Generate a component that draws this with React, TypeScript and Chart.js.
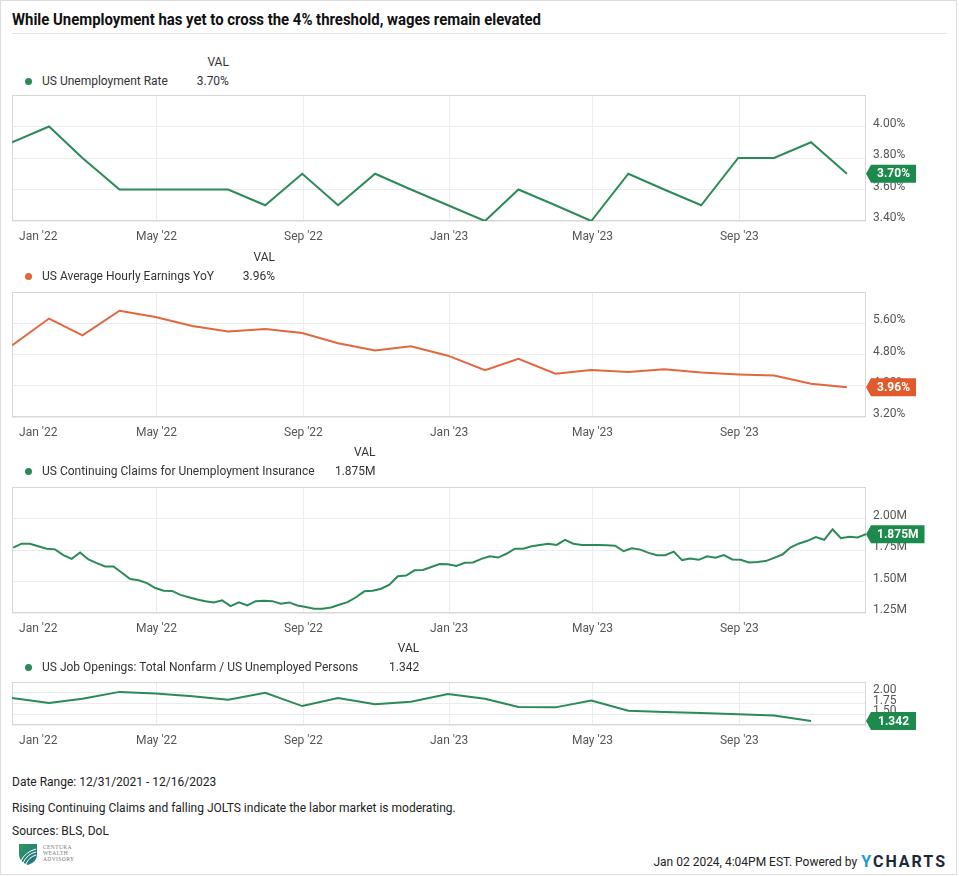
import React, { useEffect, useLayoutEffect, useRef } from 'react';
import { Chart, registerables } from 'chart.js';

Chart.register(...registerables);

const FONT = 'Roboto, "Noto Sans", "Liberation Sans", Arial, sans-serif';

// ---------- data ----------
const RANGE_START = '2021-12-31';
const RANGE_END = '2023-12-16';

const X_TICK_DATES = ['2022-01-22', '2022-05-01', '2022-09-01', '2023-01-01', '2023-05-01', '2023-09-01'];
const X_TICK_LABELS = ["Jan '22", "May '22", "Sep '22", "Jan '23", "May '23", "Sep '23"];

const MONTH_ENDS = [
  '2021-12-31', '2022-01-31', '2022-02-28', '2022-03-31', '2022-04-30', '2022-05-31',
  '2022-06-30', '2022-07-31', '2022-08-31', '2022-09-30', '2022-10-31', '2022-11-30',
  '2022-12-31', '2023-01-31', '2023-02-28', '2023-03-31', '2023-04-30', '2023-05-31',
  '2023-06-30', '2023-07-31', '2023-08-31', '2023-09-30', '2023-10-31', '2023-11-30',
];

const UNEMPLOYMENT = [3.9, 4.0, 3.8, 3.6, 3.6, 3.6, 3.6, 3.5, 3.7, 3.5, 3.7, 3.6, 3.5, 3.4, 3.6, 3.5, 3.4, 3.7, 3.6, 3.5, 3.8, 3.8, 3.9, 3.7];

const AHE_YOY = [5.03, 5.72, 5.29, 5.92, 5.76, 5.53, 5.39, 5.45, 5.35, 5.09, 4.90, 5.01, 4.77, 4.40, 4.69, 4.31, 4.40, 4.35, 4.42, 4.34, 4.29, 4.26, 4.05, 3.96];

const CLAIMS_FIRST_WEEK = '2022-01-01';
const CLAIMS = [
  1.769, 1.80, 1.80, 1.78, 1.76, 1.755, 1.71, 1.68, 1.73, 1.675,
  1.646, 1.62, 1.62, 1.57, 1.52, 1.51, 1.487, 1.448, 1.427, 1.425,
  1.394, 1.375, 1.357, 1.344, 1.334, 1.35, 1.305, 1.334, 1.31, 1.344,
  1.347, 1.344, 1.323, 1.334, 1.31, 1.297, 1.284, 1.284, 1.294, 1.316,
  1.336, 1.375, 1.422, 1.427, 1.443, 1.474, 1.542, 1.547, 1.589, 1.591,
  1.615, 1.638, 1.636, 1.623, 1.648, 1.651, 1.68,
  1.70, 1.69, 1.72, 1.76, 1.76, 1.78, 1.79, 1.80, 1.79, 1.83, 1.80, 1.79, 1.79,
  1.79, 1.787, 1.784, 1.74, 1.763, 1.753, 1.727, 1.709, 1.709, 1.737,
  1.67, 1.683, 1.672, 1.70, 1.688, 1.709, 1.675, 1.672, 1.651, 1.654,
  1.662, 1.688, 1.714, 1.771, 1.802, 1.823, 1.852, 1.831, 1.914, 1.844,
  1.855, 1.849, 1.875,
];

const JOLTS_RATIO = [1.88, 1.76, 1.86, 2.02, 1.98, 1.92, 1.84, 2.00, 1.69, 1.88, 1.73, 1.79, 1.97, 1.86, 1.67, 1.66, 1.82, 1.58, 1.55, 1.53, 1.50, 1.47, 1.342];

const Y_TICKS_UNEMP = [3.4, 3.6, 3.8, 4.0, 4.2];
const Y_TICKS_AHE = [3.2, 4.0, 4.8, 5.6, 6.4];
const Y_TICKS_CLAIMS = [1.25, 1.5, 1.75, 2.0, 2.25];
const Y_TICKS_JOLTS = [1.25, 1.5, 1.75, 2.0, 2.25];

// ---------- helpers ----------
const DAY = 86400000;
const startMs = Date.parse(RANGE_START + 'T00:00:00Z');
const dayOf = (s: string) => (Date.parse(s + 'T00:00:00Z') - startMs) / DAY;
const END_DAY = dayOf(RANGE_END);
const X_TICK_DAYS = X_TICK_DATES.map(dayOf);
const claimsStart = dayOf(CLAIMS_FIRST_WEEK);
const CLAIMS_DAYS = CLAIMS.map((_, i) => claimsStart + 7 * i);
const MONTH_DAYS = MONTH_ENDS.map(dayOf);

const GREEN = '#2b8a57';
const GREEN_BADGE = '#1d8a4d';
const ORANGE = '#e2663e';
const ORANGE_BADGE = '#e05a2c';

const boxPlugin = {
  id: 'box',
  beforeDatasetsDraw(chart: any) {
    const { ctx, chartArea } = chart;
    const l = Math.round(chartArea.left), t = Math.round(chartArea.top);
    const r = Math.round(chartArea.right), b = Math.round(chartArea.bottom);
    ctx.save();
    ctx.strokeStyle = '#d6d6d6';
    ctx.lineWidth = 1;
    ctx.strokeRect(l + 0.5, t + 0.5, r - l - 1, b - t - 1);
    ctx.restore();
  },
};

const badgePlugin = {
  id: 'badge',
  afterDraw(chart: any, _args: any, opts: any) {
    const data = chart.data.datasets[0].data as { x: number; y: number }[];
    const last = data[data.length - 1];
    const y = chart.scales.y.getPixelForValue(last.y);
    const x = chart.chartArea.right;
    const ctx = chart.ctx;
    ctx.save();
    ctx.font = `bold 12px ${FONT}`;
    const tw = ctx.measureText(opts.text).width;
    const w = Math.max(tw + 12, 45);
    const h = 18, tip = 5;
    ctx.fillStyle = opts.color;
    ctx.beginPath();
    ctx.moveTo(x, y);
    ctx.lineTo(x + tip, y - h / 2);
    ctx.lineTo(x + tip + w, y - h / 2);
    ctx.lineTo(x + tip + w, y + h / 2);
    ctx.lineTo(x + tip, y + h / 2);
    ctx.closePath();
    ctx.fill();
    ctx.fillStyle = '#ffffff';
    ctx.textAlign = 'center';
    ctx.textBaseline = 'middle';
    ctx.fillText(opts.text, x + tip + w / 2, y + 0.5);
    ctx.restore();
  },
};

type PanelProps = {
  plotTop: number;
  plotHeight: number;
  days: number[];
  values: number[];
  yTicks: number[];
  fmt: (v: number) => string;
  color: string;
  badgeColor: string;
  badgeText: string;
};

const PAD_TOP = 16;
const X_AXIS_H = 28;

function Panel(p: PanelProps) {
  const ref = useRef<HTMLCanvasElement>(null);
  const canvasH = PAD_TOP + p.plotHeight + X_AXIS_H;
  useEffect(() => {
    const yMin = p.yTicks[0];
    const yMax = p.yTicks[p.yTicks.length - 1];
    const chart = new Chart(ref.current as HTMLCanvasElement, {
      type: 'line',
      data: {
        datasets: [
          {
            data: p.days.map((d, i) => ({ x: d, y: p.values[i] })),
            borderColor: p.color,
            borderWidth: 2,
            pointRadius: 0,
            tension: 0,
            fill: false,
          },
        ],
      },
      options: {
        responsive: false,
        maintainAspectRatio: false,
        animation: false,
        devicePixelRatio: 1,
        layout: { padding: { left: 12, top: PAD_TOP, right: 0, bottom: 0 } },
        plugins: {
          legend: { display: false },
          tooltip: { enabled: false },
          badge: { text: p.badgeText, color: p.badgeColor },
        } as any,
        scales: {
          x: {
            type: 'linear',
            min: 0,
            max: END_DAY,
            afterBuildTicks: (s: any) => {
              s.ticks = X_TICK_DAYS.map((v) => ({ value: v }));
            },
            afterFit: (s: any) => {
              s.height = X_AXIS_H;
            },
            ticks: {
              autoSkip: false,
              maxRotation: 0,
              padding: 9,
              color: '#555',
              font: { family: FONT, size: 12 },
              callback: (_v: any, i: number) => X_TICK_LABELS[i],
            },
            grid: {
              drawTicks: false,
              color: (c: any) => (c.index === 0 ? 'rgba(0,0,0,0)' : '#ececec'),
            },
            border: { display: false },
          },
          y: {
            type: 'linear',
            position: 'right',
            min: yMin,
            max: yMax,
            afterBuildTicks: (s: any) => {
              s.ticks = p.yTicks.map((v) => ({ value: v }));
            },
            afterFit: (s: any) => {
              s.width = 93;
            },
            ticks: {
              autoSkip: false,
              padding: 7,
              labelOffset: -3,
              color: '#555',
              font: { family: FONT, size: 12 },
              callback: (v: any) => (Math.abs(Number(v) - yMax) < 1e-9 ? '' : p.fmt(Number(v))),
            },
            grid: { drawTicks: false, color: '#ececec' },
            border: { display: false },
          },
        },
      } as any,
      plugins: [boxPlugin, badgePlugin],
    });
    return () => chart.destroy();
  }, []);
  return (
    <canvas
      ref={ref}
      width={959}
      height={canvasH}
      style={{ position: 'absolute', left: 0, top: p.plotTop - PAD_TOP, width: 959, height: canvasH }}
    />
  );
}

function Legend(props: { valY: number; name: string; value: string; color: string }) {
  return (
    <div
      style={{
        position: 'absolute',
        left: 24.5,
        top: props.valY - 9.5,
        display: 'grid',
        gridTemplateColumns: 'auto 61px',
        fontFamily: FONT,
        fontSize: 12,
        lineHeight: '19px',
        color: '#333',
        whiteSpace: 'nowrap',
      }}
    >
      <div />
      <div style={{ textAlign: 'right' }}>VAL</div>
      <div style={{ display: 'flex', alignItems: 'center' }}>
        <span
          style={{
            display: 'inline-block',
            width: 7,
            height: 7,
            borderRadius: '50%',
            background: props.color,
            marginRight: 10.5,
          }}
        />
        {props.name}
      </div>
      <div style={{ textAlign: 'right' }}>{props.value}</div>
    </div>
  );
}

function Title() {
  const ref = useRef<HTMLDivElement>(null);
  useLayoutEffect(() => {
    const el = ref.current;
    if (!el) return;
    const w = el.getBoundingClientRect().width;
    if (w > 0) el.style.transform = `scaleX(${529 / w})`;
  }, []);
  return (
    <div
      ref={ref}
      style={{
        position: 'absolute',
        left: 12,
        top: 10,
        fontFamily: FONT,
        fontWeight: 'bold',
        fontSize: 16,
        lineHeight: '20px',
        color: '#111',
        whiteSpace: 'nowrap',
        transformOrigin: 'left center',
      }}
    >
      While Unemployment has yet to cross the 4% threshold, wages remain elevated
    </div>
  );
}

function Logo() {
  return (
    <div style={{ position: 'absolute', left: 18, top: 842 }}>
      <svg width={20} height={24} viewBox="0 0 20 24" style={{ position: 'absolute', left: 0, top: 0 }}>
        <defs>
          <linearGradient id="lg" x1="0" y1="0" x2="1" y2="1">
            <stop offset="0" stopColor="#2f9a5a" />
            <stop offset="1" stopColor="#1f6f8a" />
          </linearGradient>
        </defs>
        <path d="M1 2 L19 2 L19 12 Q19 20 10 23 Q1 20 1 12 Z" fill="url(#lg)" />
        <path d="M3 19 Q7 10 18 7" stroke="#fff" strokeWidth="1" fill="none" />
        <path d="M5 21 Q9 12 18 10" stroke="#fff" strokeWidth="1" fill="none" />
        <path d="M8 22 Q11 15 18 13" stroke="#fff" strokeWidth="1" fill="none" />
      </svg>
      <div
        style={{
          position: 'absolute',
          left: 25,
          top: 2,
          fontFamily: '"Liberation Serif", "DejaVu Serif", serif',
          fontSize: 5.5,
          lineHeight: '6px',
          color: '#7a7a7a',
          letterSpacing: '0.4px',
          whiteSpace: 'nowrap',
        }}
      >
        <div>CENTURA</div>
        <div>WEALTH</div>
        <div>ADVISORY</div>
      </div>
    </div>
  );
}

const footStyle: React.CSSProperties = {
  position: 'absolute',
  left: 12,
  fontFamily: FONT,
  fontSize: 12,
  lineHeight: '16px',
  color: '#222',
  whiteSpace: 'nowrap',
};

export default function App() {
  const pct = (v: number) => v.toFixed(2) + '%';
  return (
    <div
      style={{
        position: 'absolute',
        left: 0,
        top: 0,
        width: 959,
        height: 876,
        background: '#fff',
        overflow: 'hidden',
        fontFamily: FONT,
      }}
    >
      <div
        style={{
          position: 'absolute',
          left: 0,
          top: 0,
          width: 955,
          height: 873,
          border: '1px solid #dcdcdc',
        }}
      />
      <Title />
      <div style={{ position: 'absolute', left: 12, top: 33, width: 935, height: 1, background: '#e3e3e3' }} />

      <Legend valY={62} name="US Unemployment Rate" value="3.70%" color={GREEN} />
      <Panel
        plotTop={95}
        plotHeight={126}
        days={MONTH_DAYS}
        values={UNEMPLOYMENT}
        yTicks={Y_TICKS_UNEMP}
        fmt={pct}
        color={GREEN}
        badgeColor={GREEN_BADGE}
        badgeText="3.70%"
      />

      <Legend valY={257} name="US Average Hourly Earnings YoY" value="3.96%" color={ORANGE} />
      <Panel
        plotTop={292}
        plotHeight={125}
        days={MONTH_DAYS}
        values={AHE_YOY}
        yTicks={Y_TICKS_AHE}
        fmt={pct}
        color={ORANGE}
        badgeColor={ORANGE_BADGE}
        badgeText="3.96%"
      />

      <Legend valY={452} name="US Continuing Claims for Unemployment Insurance" value="1.875M" color={GREEN} />
      <Panel
        plotTop={487}
        plotHeight={126}
        days={CLAIMS_DAYS}
        values={CLAIMS}
        yTicks={Y_TICKS_CLAIMS}
        fmt={(v) => v.toFixed(2) + 'M'}
        color={GREEN}
        badgeColor={GREEN_BADGE}
        badgeText="1.875M"
      />

      <Legend valY={648} name="US Job Openings: Total Nonfarm / US Unemployed Persons" value="1.342" color={GREEN} />
      <Panel
        plotTop={682}
        plotHeight={43}
        days={MONTH_DAYS.slice(0, JOLTS_RATIO.length)}
        values={JOLTS_RATIO}
        yTicks={Y_TICKS_JOLTS}
        fmt={(v) => v.toFixed(2)}
        color={GREEN}
        badgeColor={GREEN_BADGE}
        badgeText="1.342"
      />

      <div style={{ ...footStyle, top: 774 }}>Date Range: 12/31/2021 - 12/16/2023</div>
      <div style={{ ...footStyle, top: 800 }}>
        Rising Continuing Claims and falling JOLTS indicate the labor market is moderating.
      </div>
      <div style={{ ...footStyle, top: 823 }}>Sources: BLS, DoL</div>
      <Logo />
      <div
        style={{
          position: 'absolute',
          right: 12,
          top: 853,
          display: 'flex',
          alignItems: 'center',
          whiteSpace: 'nowrap',
          lineHeight: '18px',
        }}
      >
        <span style={{ fontFamily: FONT, fontSize: 12, color: '#222', marginRight: 4 }}>
          Jan 02 2024, 4:04PM EST. Powered by
        </span>
        <span style={{ fontFamily: FONT, fontWeight: 'bold', fontSize: 16, letterSpacing: '2px', color: '#1b2838' }}>
          <span style={{ color: '#1d9ad6' }}>Y</span>CHARTS
        </span>
      </div>
    </div>
  );
}
